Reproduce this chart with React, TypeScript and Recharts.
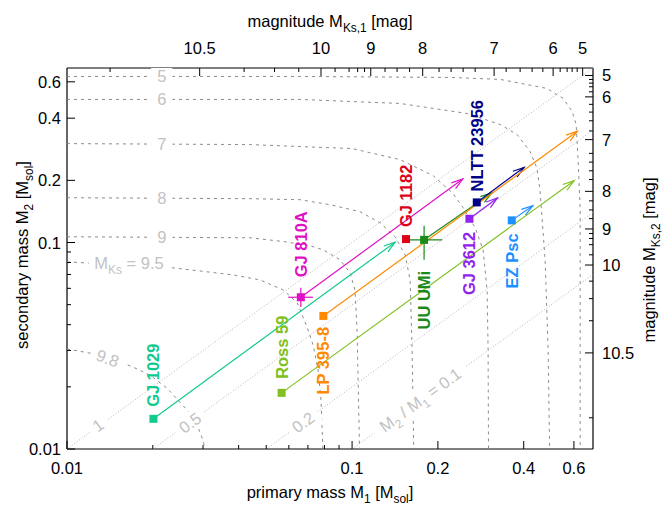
import React from 'react';
import { ComposedChart, Scatter, XAxis, YAxis, Customized } from 'recharts';

const FONT = '"Liberation Sans", Arial, Helvetica, sans-serif';
const FS = 16.5;

// mass axes (bottom / left), solar masses
const massMajor = [0.01, 0.1, 0.2, 0.4, 0.6];
const massMajorLabels = ['0.01', '0.1', '0.2', '0.4', '0.6'];
const massMinor = [0.02, 0.03, 0.04, 0.05, 0.06, 0.07, 0.08, 0.09];

// magnitude axes (top / right), placed at the equivalent mass
const magMajorMass = [0.0292, 0.0778, 0.1163, 0.1769, 0.3149, 0.5073, 0.644];
const magMajorLabels = ['10.5', '10', '9', '8', '7', '6', '5'];
const magMinorMass = [
  0.01416, 0.0418, 0.05346, 0.06501, 0.08717, 0.09761, 0.1046, 0.1106, 0.1305, 0.1438, 0.1591,
  0.2019, 0.2225, 0.2452, 0.2702, 0.3471, 0.3886, 0.4281, 0.4668, 0.5369, 0.568, 0.5914, 0.616,
];

// systems: M1, M2 of the square, and arrow tip
const starNames = ['GJ 1029', 'GJ 810A', 'GJ 1182', 'UU UMi', 'NLTT 23956', 'LP 395-8', 'GJ 3612', 'EZ Psc', 'Ross 59'];
const starM1 = [0.0201, 0.0661, 0.1546, 0.1789, 0.2738, 0.0793, 0.258, 0.3632, 0.0566];
const starM2 = [0.014, 0.0543, 0.1039, 0.103, 0.1564, 0.0441, 0.1303, 0.128, 0.0187];
const tipM1 = [0.1416, 0.2445, null, 0.309, 0.4016, 0.617, 0.3236, 0.4305, 0.601];
const tipM2 = [0.1004, 0.203, null, 0.1737, 0.2312, 0.346, 0.1643, 0.1507, 0.1993];

// error crosses
const crossNames = ['GJ 810A', 'UU UMi'];
const crossM1 = [[0.0597, 0.0729], [0.1572, 0.207]];
const crossM2 = [[0.0487, 0.0603], [0.0824, 0.1205]];

// lines of constant combined magnitude, [M1, M2]
const contour5 = [[0.01, 0.637], [0.0657, 0.637], [0.2208, 0.63], [0.3307, 0.6164], [0.4832, 0.5572], [0.55, 0.4985], [0.5916, 0.431], [0.611, 0.3727], [0.621, 0.2464], [0.631, 0.1458], [0.631, 0.01]];
const contour6 = [[0.01, 0.493], [0.0657, 0.493], [0.1474, 0.4714], [0.2532, 0.4214], [0.3307, 0.3727], [0.3793, 0.3332], [0.4213, 0.2756], [0.4458, 0.228], [0.4567, 0.1762], [0.4755, 0.0824], [0.4872, 0.0301], [0.493, 0.01]];
const contour7 = [[0.01, 0.3013], [0.0439, 0.298], [0.1, 0.285], [0.1474, 0.252], [0.1924, 0.2108], [0.2262, 0.1723], [0.2452, 0.1474], [0.2702, 0.1179], [0.2881, 0.0922], [0.2976, 0.0589], [0.3, 0.0301], [0.301, 0.01]];
const contour8 = [[0.01, 0.1648], [0.0439, 0.163], [0.0657, 0.1612], [0.0837, 0.1524], [0.1066, 0.141], [0.1254, 0.1246], [0.1415, 0.1066], [0.1535, 0.0872], [0.1598, 0.0659], [0.1624, 0.0301], [0.1645, 0.01]];
const contour9 = [[0.01, 0.1066], [0.0439, 0.1054], [0.0574, 0.1011], [0.0712, 0.0964], [0.0791, 0.0922], [0.0908, 0.0824], [0.0984, 0.0713], [0.1024, 0.0589], [0.1041, 0.0377], [0.1062, 0.01]];
const contour95 = [[0.01, 0.0806], [0.01535, 0.0779], [0.02355, 0.0754], [0.0382, 0.0697], [0.04755, 0.0659], [0.0574, 0.0589], [0.0642, 0.051], [0.0695, 0.039], [0.073, 0.0319], [0.076, 0.0241], [0.0778, 0.01723], [0.079, 0.01]];
const contour98 = [[0.01, 0.0305], [0.01204, 0.02914], [0.01416, 0.02756], [0.01705, 0.02492], [0.01955, 0.02279], [0.02244, 0.01971], [0.02491, 0.01685], [0.027, 0.0149], [0.02882, 0.01274], [0.03, 0.01102], [0.0305, 0.01]];
const contours = [contour5, contour6, contour7, contour8, contour9, contour95, contour98];

const contourLabelText = ['5', '6', '7', '8', '9', 'M_{Ks} = 9.5', '9.8'];
const contourLabelM1 = [0.0215, 0.0215, 0.0215, 0.0215, 0.0215, 0.0165, 0.0139];
const contourLabelM2 = [0.637, 0.493, 0.301, 0.1643, 0.106, 0.0793, 0.02756];

// lines of constant mass ratio
const ratioLines = [
  [[0.01, 0.01], [0.7, 0.7]],
  [[0.02, 0.01], [0.7, 0.35]],
  [[0.05, 0.01], [0.7, 0.14]],
  [[0.1, 0.01], [0.7, 0.07]],
];
const ratioLabelText = ['1', '0.5', '0.2', 'M_{2} / M_{1} = 0.1'];
const ratioLabelM1 = [0.01285, 0.027, 0.0673, 0.1732];
const ratioLabelM2 = [0.01303, 0.0134, 0.01349, 0.0173];

// corners of the plotted range, used to bind the magnitude axes
const axisRange = [[0.01, 0.01], [0.7, 0.7]];

const starColors: Record<string, string> = {
  'GJ 1029': '#12c98e',
  'GJ 810A': '#e010c4',
  'GJ 1182': '#dd0018',
  'UU UMi': '#1b8a1b',
  'NLTT 23956': '#000088',
  'LP 395-8': '#ff8a00',
  'GJ 3612': '#9222f0',
  'EZ Psc': '#1e90ff',
  'Ross 59': '#80c020',
};
// distance from square to label; negative = label below
const starLabelGap: Record<string, number> = {
  'GJ 1029': 12, 'GJ 810A': 20, 'GJ 1182': 12, 'UU UMi': -31, 'NLTT 23956': 11,
  'LP 395-8': -11, 'GJ 3612': -13, 'EZ Psc': -13, 'Ross 59': 14,
};

const toPts = (rows: number[][]) => rows.map(([x, y]) => ({ x, y }));

function Rich({ text, fs }: { text: string; fs: number }) {
  const parts = text.split(/(_\{[^}]*\})/).filter(Boolean);
  const sh = fs * 0.3;
  let down = false;
  return (
    <>
      {parts.map((p, i) => {
        if (p.startsWith('_{')) {
          down = true;
          return <tspan key={i} dy={sh} fontSize={fs * 0.72}>{p.slice(2, -1)}</tspan>;
        }
        const dy = down ? -sh : undefined;
        down = false;
        return <tspan key={i} dy={dy}>{p}</tspan>;
      })}
    </>
  );
}

function textWidth(text: string, fs: number) {
  let w = 0;
  text.split(/(_\{[^}]*\})/).filter(Boolean).forEach((p) => {
    const sub = p.startsWith('_{');
    const s = sub ? p.slice(2, -1) : p;
    for (const c of s) w += (c === ' ' || c === '.' ? 0.28 : c === 'M' ? 0.83 : 0.56) * fs * (sub ? 0.72 : 1);
  });
  return w;
}

function axisTick(side: string, majors: number[], labels: string[]) {
  return (props: any) => {
    const { x, y, payload } = props;
    const idx = majors.indexOf(payload.value);
    const len = idx >= 0 ? 8 : 4;
    const label = idx >= 0 ? labels[idx] : '';
    const t = { fontFamily: FONT, fontSize: FS, fill: '#000' };
    if (side === 'bottom')
      return (
        <g>
          <line x1={x} y1={y} x2={x} y2={y - len} stroke="#000" />
          {label && <text x={x} y={y + 25} textAnchor="middle" {...t}>{label}</text>}
        </g>
      );
    if (side === 'top')
      return (
        <g>
          <line x1={x} y1={y} x2={x} y2={y + len} stroke="#000" />
          {label && <text x={x} y={y - 14} textAnchor="middle" {...t}>{label}</text>}
        </g>
      );
    if (side === 'left')
      return (
        <g>
          <line x1={x} y1={y} x2={x + len} y2={y} stroke="#000" />
          {label && <text x={x - 6} y={y + 6} textAnchor="end" {...t}>{label}</text>}
        </g>
      );
    return (
      <g>
        <line x1={x} y1={y} x2={x - len} y2={y} stroke="#000" />
        {label && <text x={x + 9} y={y + 6} textAnchor="start" {...t}>{label}</text>}
      </g>
    );
  };
}

const Empty = () => <g />;

function arrowLine(color: string) {
  return (p: any) => {
    const pts = p.points;
    if (!pts || pts.length < 2) return <g />;
    const a = pts[0];
    const b = pts[pts.length - 1];
    const ang = Math.atan2(b.y - a.y, b.x - a.x);
    const L = 12;
    const w = 0.3;
    const h1 = [b.x - L * Math.cos(ang - w), b.y - L * Math.sin(ang - w)];
    const h2 = [b.x - L * Math.cos(ang + w), b.y - L * Math.sin(ang + w)];
    return (
      <g stroke={color} strokeWidth={1.2} fill="none">
        <line x1={a.x} y1={a.y} x2={b.x} y2={b.y} />
        <polyline points={`${h1[0]},${h1[1]} ${b.x},${b.y} ${h2[0]},${h2[1]}`} />
      </g>
    );
  };
}

function AnnoLabel(props: any) {
  const { cx, cy, payload } = props;
  const w = textWidth(payload.text, FS) + 12;
  const h = 20;
  return (
    <g transform={`rotate(${payload.angle} ${cx} ${cy})`}>
      <rect x={cx - w / 2} y={cy - h / 2} width={w} height={h} fill="#fff" />
      <text x={cx} y={cy + 6} textAnchor="middle" fontFamily={FONT} fontSize={FS} fill="#c2c2c2">
        <Rich text={payload.text} fs={FS} />
      </text>
    </g>
  );
}

function StarMark(props: any) {
  const { cx, cy, payload } = props;
  const color = starColors[payload.name];
  const gap = starLabelGap[payload.name];
  const ly = cy - gap;
  return (
    <g>
      <rect x={cx - 4} y={cy - 4} width={8} height={8} fill={color} />
      <text
        x={cx}
        y={ly}
        transform={`rotate(-90 ${cx} ${ly})`}
        textAnchor={gap > 0 ? 'start' : 'end'}
        dominantBaseline="central"
        fontFamily={FONT}
        fontSize={FS}
        fontWeight="bold"
        fill={color}
      >
        {payload.name}
      </text>
    </g>
  );
}

const Titles = () => (
  <g fontFamily={FONT} fontSize={FS} fill="#000">
    <text x={322} y={19} textAnchor="middle"><Rich text="magnitude M_{Ks,1} [mag]" fs={FS} /></text>
    <text x={322} y={490} textAnchor="middle"><Rich text="primary mass M_{1} [M_{sol}]" fs={FS} /></text>
    <text x={20} y={247} transform="rotate(-90 20 247)" textAnchor="middle"><Rich text="secondary mass M_{2} [M_{sol}]" fs={FS} /></text>
    <text x={647} y={252} transform="rotate(-90 647 252)" textAnchor="middle"><Rich text="magnitude M_{Ks,2} [mag]" fs={FS} /></text>
  </g>
);

export default function App() {
  const domain: [number, number] = [0.01, 0.7];
  const frame = { stroke: '#000', strokeWidth: 1.2 };
  const starData = starNames.map((name, i) => ({ x: starM1[i], y: starM2[i], name }));
  const contourLabels = contourLabelText.map((text, i) => ({
    x: contourLabelM1[i], y: contourLabelM2[i], text, angle: text === '9.8' ? 20 : 0,
  }));
  const ratioLabels = ratioLabelText.map((text, i) => ({ x: ratioLabelM1[i], y: ratioLabelM2[i], text, angle: -36 }));
  const common = { xAxisId: 'b', yAxisId: 'l', dataKey: 'y', isAnimationActive: false, legendType: 'none' as const };

  return (
    <ComposedChart width={662} height={498} margin={{ top: 0, right: 0, bottom: 0, left: 0 }}>
      <XAxis
        xAxisId="b" dataKey="x" type="number" scale="log" domain={domain} allowDataOverflow
        ticks={[...massMajor, ...massMinor]} interval={0} tickSize={0} tickMargin={0} tickLine={false}
        axisLine={frame} tick={axisTick('bottom', massMajor, massMajorLabels)} height={57}
      />
      <XAxis
        xAxisId="t" dataKey="x" orientation="top" type="number" scale="log" domain={domain} allowDataOverflow
        ticks={[...magMajorMass, ...magMinorMass]} interval={0} tickSize={0} tickMargin={0} tickLine={false}
        axisLine={frame} tick={axisTick('top', magMajorMass, magMajorLabels)} height={60}
      />
      <YAxis
        yAxisId="l" dataKey="y" type="number" scale="log" domain={domain} allowDataOverflow
        ticks={[...massMajor, ...massMinor]} interval={0} tickSize={0} tickMargin={0} tickLine={false}
        axisLine={frame} tick={axisTick('left', massMajor, massMajorLabels)} width={59}
      />
      <YAxis
        yAxisId="r" dataKey="y" orientation="right" type="number" scale="log" domain={domain} allowDataOverflow
        ticks={[...magMajorMass, ...magMinorMass]} interval={0} tickSize={0} tickMargin={0} tickLine={false}
        axisLine={frame} tick={axisTick('right', magMajorMass, magMajorLabels)} width={77}
      />

      <Scatter xAxisId="t" yAxisId="r" dataKey="y" data={toPts(axisRange)} shape={Empty}
        isAnimationActive={false} legendType="none" />

      {ratioLines.map((seg, i) => (
        <Scatter key={`q${i}`} {...common} data={toPts(seg)} shape={Empty} lineType="joint"
          line={{ stroke: '#b4b4b4', strokeWidth: 1, strokeDasharray: '1 2' }} />
      ))}
      {contours.map((c, i) => (
        <Scatter key={`c${i}`} {...common} data={toPts(c)} shape={Empty} lineType="joint"
          line={{ stroke: '#8c8c8c', strokeWidth: 1, strokeDasharray: '3 4' }} />
      ))}
      <Scatter {...common} data={contourLabels} shape={AnnoLabel} />
      <Scatter {...common} data={ratioLabels} shape={AnnoLabel} />

      {starNames.map((name, i) =>
        tipM1[i] == null ? null : (
          <Scatter key={`a${i}`} {...common} shape={Empty} lineType="joint"
            data={[{ x: starM1[i], y: starM2[i] }, { x: tipM1[i] as number, y: tipM2[i] as number }]}
            line={arrowLine(starColors[name])} />
        ),
      )}
      {crossNames.map((name, i) => (
        <React.Fragment key={`e${i}`}>
          <Scatter {...common} shape={Empty} lineType="joint"
            data={[{ x: crossM1[i][0], y: starM2[starNames.indexOf(name)] }, { x: crossM1[i][1], y: starM2[starNames.indexOf(name)] }]}
            line={{ stroke: starColors[name], strokeWidth: 1.2 }} />
          <Scatter {...common} shape={Empty} lineType="joint"
            data={[{ x: starM1[starNames.indexOf(name)], y: crossM2[i][0] }, { x: starM1[starNames.indexOf(name)], y: crossM2[i][1] }]}
            line={{ stroke: starColors[name], strokeWidth: 1.2 }} />
        </React.Fragment>
      ))}
      <Scatter {...common} data={starData} shape={StarMark} />
      <Customized component={Titles} />
    </ComposedChart>
  );
}
